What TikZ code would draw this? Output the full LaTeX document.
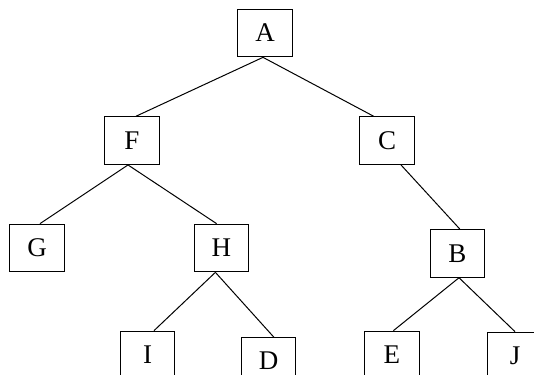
\documentclass[tikz,border=0pt]{standalone}
\usepackage{fontspec}
\setmainfont{Liberation Serif}
\begin{document}
\begin{tikzpicture}[x=1pt, y=1pt]
	\tikzstyle{Node} = [rectangle, minimum width=54.5pt, minimum height=47.7pt, inner sep=0pt, text centered, draw=black, line width=1pt, font=\fontsize{27}{32}\selectfont]
	\tikzstyle{Line} = [line width=1pt, black]
	
	\useasboundingbox (0,0) rectangle (534,374);
	\node (A) [Node] at (265,341) {A};
	\node (F) [Node] at (132,233.4) {F};
	\node (C) [Node] at (387,233.4) {C};
	\node (G) [Node] at (37,126) {G};
	\node (H) [Node] at (221.4,126) {H};
	\node (B) [Node] at (457.4,120.6) {B};
	\node (I) [Node] at (147.6,19) {I};
	\node (D) [Node] at (268.7,12.3) {\raisebox{3pt}{D}};
	\node (E) [Node] at (391.8,19) {E};
	\node (J) [Node] at (515,18) {J};
	\draw [Line] ([xshift=-2pt]A.south) -- ([xshift=4pt]F.north);
	\draw [Line] ([xshift=-2pt]A.south) -- ([xshift=-13.4pt]C.north);
	\draw [Line] ([xshift=-4pt]F.south) -- ([xshift=3pt]G.north);
	\draw [Line] ([xshift=-4pt]F.south) -- ([xshift=-4.8pt]H.north);
	\draw [Line] ([xshift=14pt]C.south) -- ([xshift=2.4pt]B.north);
	\draw [Line] ([xshift=-6pt]H.south) -- ([xshift=6.4pt]I.north);
	\draw [Line] ([xshift=-6pt]H.south) -- ([xshift=5.3pt]D.north);
	\draw [Line] ([xshift=1.6pt]B.south) -- ([xshift=1.6pt]E.north);
	\draw [Line] ([xshift=1.6pt]B.south) -- (J.north);
\end{tikzpicture}
\end{document}
